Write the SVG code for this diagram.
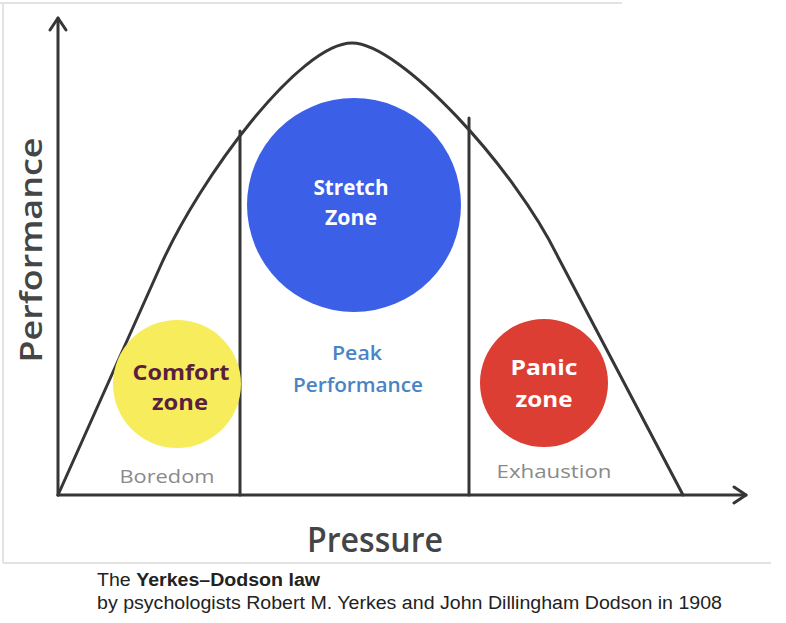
<svg xmlns="http://www.w3.org/2000/svg" width="786" height="623" viewBox="0 0 786 623">
<style>
.ln{fill:none;stroke:#363636;stroke-width:3;stroke-linejoin:round;stroke-linecap:round}
.frame{fill:none;stroke:#e3e3e3;stroke-width:2}
.zone{font-family:"Open Sans",Lato,"Liberation Sans",sans-serif;font-weight:bold;font-size:21px;text-anchor:middle}
.peak{font-family:"Open Sans",Lato,"Liberation Sans",sans-serif;font-weight:600;font-size:20px;text-anchor:middle;fill:#4a84c4}
.sub{font-family:"Open Sans",Lato,"Liberation Sans",sans-serif;font-size:19px;fill:#8a8a8a;text-anchor:middle}
.axis{font-family:"Open Sans",Lato,"Liberation Sans",sans-serif;font-weight:600;fill:#454545;text-anchor:middle}
.cap{font-family:"Liberation Sans",Arial,sans-serif;font-size:18px;fill:#222}
</style>
<defs>
<marker id="arr" markerUnits="userSpaceOnUse" viewBox="0 0 16 20" refX="14" refY="10" markerWidth="16" markerHeight="20" orient="auto">
<path d="M2,2 L14,10 L2,18" fill="none" stroke="#363636" stroke-width="3" stroke-linecap="round" stroke-linejoin="round"/>
</marker>
</defs>
<rect width="786" height="623" fill="#ffffff"/>
<path class="frame" d="M0,3 H622 M3,3 V563 M3,563 H771"/>
<g id="connectors">
<path class="ln" d="M58,495 V18" marker-end="url(#arr)"/>
<path class="ln" d="M58,495 H746" marker-end="url(#arr)"/>
<path class="ln" d="M58,495 L160,267 C200,177 300,43 352,43 C400,43 515,168 558,257 L683,495"/>
<path class="ln" d="M240,131 V495"/>
<path class="ln" d="M469,118 V495"/>
</g>
<g id="stretch">
<circle cx="354" cy="205" r="107" fill="#3b5fe6"/>
<text class="zone" fill="#ffffff" x="351" y="195" textLength="75" lengthAdjust="spacingAndGlyphs">Stretch</text>
<text class="zone" fill="#ffffff" x="351" y="225" textLength="52" lengthAdjust="spacingAndGlyphs">Zone</text>
</g>
<g id="comfort">
<circle cx="177" cy="384" r="64" fill="#f6ec5c"/>
<text class="zone" fill="#5a1f3f" x="181" y="380" textLength="97" lengthAdjust="spacingAndGlyphs">Comfort</text>
<text class="zone" fill="#5a1f3f" x="180" y="410" textLength="56" lengthAdjust="spacingAndGlyphs">zone</text>
</g>
<g id="panic">
<circle cx="544" cy="383" r="64" fill="#dc3e34"/>
<text class="zone" fill="#ffffff" x="544" y="375" textLength="67" lengthAdjust="spacingAndGlyphs">Panic</text>
<text class="zone" fill="#ffffff" x="544" y="407" textLength="57" lengthAdjust="spacingAndGlyphs">zone</text>
</g>
<g id="peak">
<text class="peak" x="357" y="360" textLength="50" lengthAdjust="spacingAndGlyphs">Peak</text>
<text class="peak" x="358" y="392" textLength="130" lengthAdjust="spacingAndGlyphs">Performance</text>
</g>
<g id="boredom"><text class="sub" x="167" y="483" textLength="95" lengthAdjust="spacingAndGlyphs">Boredom</text></g>
<g id="exhaustion"><text class="sub" x="554" y="478" textLength="115" lengthAdjust="spacingAndGlyphs">Exhaustion</text></g>
<g id="y-label"><text class="axis" font-size="31" transform="translate(42,250) rotate(-90)" textLength="225" lengthAdjust="spacingAndGlyphs">Performance</text></g>
<g id="x-label"><text class="axis" font-size="34" x="375" y="552" textLength="136" lengthAdjust="spacingAndGlyphs">Pressure</text></g>
<g id="caption">
<text class="cap" x="97" y="586" textLength="223" lengthAdjust="spacingAndGlyphs">The <tspan font-weight="bold">Yerkes–Dodson law</tspan></text>
<text class="cap" x="97" y="609" textLength="625" lengthAdjust="spacingAndGlyphs">by psychologists Robert M. Yerkes and John Dillingham Dodson in 1908</text>
</g>
</svg>
